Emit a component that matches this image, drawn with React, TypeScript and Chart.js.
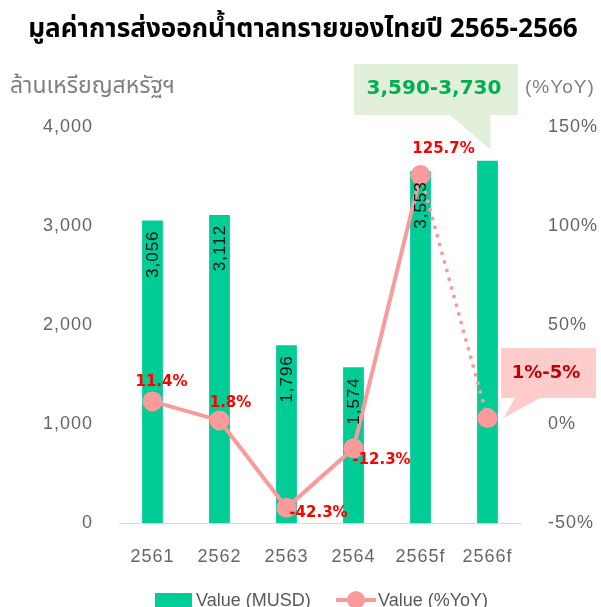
import React, { useEffect, useRef } from "react";
import { Chart, registerables } from "chart.js";
Chart.register(...registerables);

const categories = ["2561", "2562", "2563", "2564", "2565f", "2566f"];
const valueMUSD = [3056, 3112, 1796, 1574, 3553, 3660];
const valueYoY = [11.4, 1.8, -42.3, -12.3, 125.7, 3];
const barLabels = ["3,056", "3,112", "1,796", "1,574", "3,553", ""];
const yoyLabels = ["11.4%", "1.8%", "-42.3%", "-12.3%", "125.7%", ""];
const leftTickMin = 0;
const leftTickMax = 4000;
const leftTickStep = 1000;
const rightTickMin = -50;
const rightTickMax = 150;
const rightTickStep = 50;
const titleText = "มูลค่าการส่งออกน้ำตาลทรายของไทยปี 2565-2566";
const leftAxisTitle = "ล้านเหรียญสหรัฐฯ";
const rightAxisTitle = "(%YoY)";
const forecastValueRange = "3,590-3,730";
const forecastYoYRange = "1%-5%";
const legendLabels = ["Value (MUSD)", "Value (%YoY)"];

// styling (offsets of the YoY labels relative to their points)
const yoyLabelOffsets = [
  [9, -19],
  [11, -17],
  [32, 5],
  [28, 12],
  [23, -26],
  [0, 0],
];

const BAR = "#00CC96";
const LINE = "#FA9A9A";
const GRAY = "#666666";
const FONT = '"Liberation Sans", Arial, sans-serif';
const BOLD = '"DejaVu Sans", "Liberation Sans", sans-serif';
const THAI = 'Tahoma, "Noto Sans Thai", "Noto Sans", Loma, Garuda, sans-serif';

function fitFont(ctx: CanvasRenderingContext2D, text: string, weight: string, family: string, target: number) {
  ctx.font = `${weight} 20px ${family}`;
  const w = ctx.measureText(text).width;
  const fs = Math.max(14, Math.min(30, (20 * target) / w));
  ctx.font = `${weight} ${fs}px ${family}`;
}

const overlay = {
  id: "overlay",
  beforeDraw(chart: any) {
    const ctx = chart.ctx;
    ctx.save();
    ctx.fillStyle = "#fff";
    ctx.fillRect(0, 0, chart.width, chart.height);
    ctx.restore();
    (ctx as any).letterSpacing = "1px";
  },
  afterDraw(chart: any) {
    const ctx = chart.ctx as CanvasRenderingContext2D;
    (ctx as any).letterSpacing = "0px";
    const x = chart.scales.x;
    const y = chart.scales.y;
    const y1 = chart.scales.y1;
    ctx.save();

    // bar labels (rotated)
    ctx.fillStyle = "#111";
    ctx.font = `17px ${FONT}`;
    (ctx as any).letterSpacing = "1px";
    barLabels.forEach((t, i) => {
      if (!t) return;
      const cx = x.getPixelForValue(i);
      const top = y.getPixelForValue(valueMUSD[i]);
      ctx.save();
      ctx.translate(cx + 1, top + 10);
      ctx.rotate(-Math.PI / 2);
      ctx.textAlign = "right";
      ctx.textBaseline = "middle";
      ctx.fillText(t, 0, 0);
      ctx.restore();
    });
    (ctx as any).letterSpacing = "0px";

    // YoY labels
    ctx.fillStyle = "#FF0000";
    ctx.font = `bold 15px ${BOLD}`;
    ctx.textAlign = "center";
    ctx.textBaseline = "middle";
    yoyLabels.forEach((t, i) => {
      if (!t) return;
      const px = x.getPixelForValue(i) + yoyLabelOffsets[i][0];
      const py = y1.getPixelForValue(valueYoY[i]) + yoyLabelOffsets[i][1];
      ctx.fillText(t, px, py);
    });

    // title
    ctx.fillStyle = "#000";
    fitFont(ctx, titleText, "bold", THAI, 550);
    ctx.textAlign = "center";
    ctx.textBaseline = "alphabetic";
    ctx.fillText(titleText, 303, 37);

    // axis titles
    ctx.fillStyle = "#808080";
    fitFont(ctx, leftAxisTitle, "normal", THAI, 165);
    ctx.textAlign = "left";
    ctx.textBaseline = "middle";
    ctx.fillText(leftAxisTitle, 10, 88);
    ctx.font = `19px ${FONT}`;
    (ctx as any).letterSpacing = "1px";
    ctx.fillText(rightAxisTitle, 525, 88);
    (ctx as any).letterSpacing = "0px";

    // green callout
    const gx = x.getPixelForValue(5) + 3;
    const gy = y.getPixelForValue(valueMUSD[5]) - 11;
    ctx.fillStyle = "#E2EFDA";
    ctx.beginPath();
    ctx.moveTo(354, 64);
    ctx.lineTo(518, 64);
    ctx.lineTo(518, 115);
    ctx.lineTo(gx, 115);
    ctx.lineTo(gx, gy);
    ctx.lineTo(450, 115);
    ctx.lineTo(354, 115);
    ctx.closePath();
    ctx.fill();
    ctx.fillStyle = "#00B050";
    ctx.font = `bold 20px ${BOLD}`;
    ctx.textAlign = "center";
    ctx.textBaseline = "middle";
    ctx.fillText(forecastValueRange, 434, 89);

    // pink callout
    const px = x.getPixelForValue(5) + 16;
    const py = y1.getPixelForValue(valueYoY[5]);
    ctx.fillStyle = "#FFCCCC";
    ctx.beginPath();
    ctx.moveTo(501, 348);
    ctx.lineTo(596, 348);
    ctx.lineTo(596, 398);
    ctx.lineTo(540, 398);
    ctx.lineTo(px, py);
    ctx.lineTo(515, 398);
    ctx.lineTo(501, 398);
    ctx.closePath();
    ctx.fill();
    ctx.fillStyle = "#C00000";
    ctx.font = `bold 18px ${BOLD}`;
    ctx.fillText(forecastYoYRange, 546, 373);

    // legend
    ctx.fillStyle = BAR;
    ctx.fillRect(155, 593, 37, 16);
    ctx.fillStyle = "#595959";
    ctx.font = `18px ${FONT}`;
    ctx.textAlign = "left";
    ctx.textBaseline = "alphabetic";
    ctx.fillText(legendLabels[0], 196, 606);
    ctx.strokeStyle = LINE;
    ctx.lineWidth = 4;
    ctx.beginPath();
    ctx.moveTo(336, 600);
    ctx.lineTo(376, 600);
    ctx.stroke();
    ctx.fillStyle = LINE;
    ctx.beginPath();
    ctx.arc(356, 600, 9, 0, Math.PI * 2);
    ctx.fill();
    ctx.fillStyle = "#595959";
    ctx.fillText(legendLabels[1], 378, 606);

    ctx.restore();
  },
};

export default function App() {
  const ref = useRef<HTMLCanvasElement>(null);
  useEffect(() => {
    document.body.style.margin = "0";
    const chart = new Chart(ref.current as HTMLCanvasElement, {
      type: "bar",
      data: {
        labels: categories,
        datasets: [
          {
            type: "line",
            label: legendLabels[1],
            data: valueYoY,
            yAxisID: "y1",
            borderColor: LINE,
            backgroundColor: LINE,
            borderWidth: 4,
            pointRadius: 10,
            pointHoverRadius: 10,
            pointBorderWidth: 0,
            pointBackgroundColor: LINE,
            tension: 0,
            order: 0,
            segment: {
              borderDash: (c: any) => (c.p0DataIndex === 4 ? [0, 9] : undefined),
              borderCapStyle: (c: any) => (c.p0DataIndex === 4 ? "round" : undefined),
            },
          } as any,
          {
            type: "bar",
            label: legendLabels[0],
            data: valueMUSD,
            yAxisID: "y",
            backgroundColor: BAR,
            barPercentage: 0.31,
            categoryPercentage: 1,
            order: 1,
          },
        ],
      },
      options: {
        responsive: false,
        animation: false,
        devicePixelRatio: 1,
        layout: { padding: { top: 127, bottom: 0, left: 0, right: 0 } },
        plugins: { legend: { display: false }, tooltip: { enabled: false }, title: { display: false } },
        scales: {
          x: {
            grid: { display: false, drawTicks: false },
            border: { display: true, color: "#D9D9D9", width: 1 },
            ticks: { color: GRAY, font: { size: 18, family: FONT }, padding: 23, maxRotation: 0 },
            afterFit: (s: any) => {
              s.height = 84;
            },
          },
          y: {
            position: "left",
            min: leftTickMin,
            max: leftTickMax,
            grid: { display: false, drawTicks: false },
            border: { display: false },
            ticks: {
              stepSize: leftTickStep,
              color: GRAY,
              font: { size: 18, family: FONT },
              padding: 26,
              callback: (v: any) => Number(v).toLocaleString("en-US"),
            },
            afterFit: (s: any) => {
              s.width = 119;
            },
          },
          y1: {
            position: "right",
            min: rightTickMin,
            max: rightTickMax,
            grid: { display: false, drawTicks: false },
            border: { display: false },
            ticks: {
              stepSize: rightTickStep,
              color: GRAY,
              font: { size: 18, family: FONT },
              padding: 27,
              callback: (v: any) => v + "%",
            },
            afterFit: (s: any) => {
              s.width = 80;
            },
          },
        },
      },
      plugins: [overlay],
    });
    return () => chart.destroy();
  }, []);
  return (
    <div style={{ position: "absolute", left: 0, top: 0, width: 601, height: 607 }}>
      <canvas ref={ref} width={601} height={607} style={{ width: 601, height: 607, display: "block" }} />
    </div>
  );
}
